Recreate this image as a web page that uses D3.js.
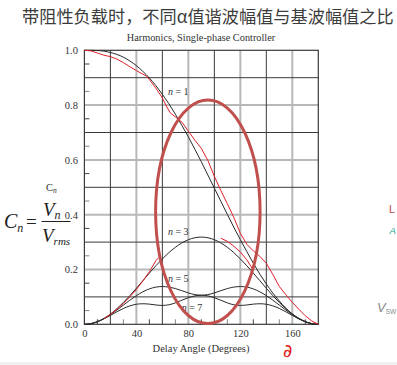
<!DOCTYPE html>
<html><head><meta charset="utf-8">
<script src="https://cdn.jsdelivr.net/npm/d3@7"></script>
<style>
html,body{margin:0;padding:0;background:#fff;}
svg{display:block;}
</style></head><body>
<svg id="c" width="397" height="365"></svg>
<script>
// ---- data ----
const angles = [0,5,10,15,20,25,30,35,40,45,50,55,60,65,70,75,80,85,90,95,100,105,110,115,120,125,130,135,140,145,150,155,160,165,170,175,180];
const c1 = [1.000,1.000,0.999,0.997,0.992,0.985,0.975,0.961,0.944,0.923,0.899,0.871,0.839,0.805,0.767,0.726,0.684,0.639,0.593,0.545,0.497,0.449,0.401,0.354,0.309,0.265,0.223,0.183,0.147,0.114,0.085,0.059,0.038,0.022,0.010,0.002,0.000];
const c3 = [0,0.0024,0.0096,0.0213,0.0372,0.0569,0.0796,0.1047,0.1315,0.1592,0.1868,0.2136,0.2387,0.2615,0.2811,0.2970,0.3087,0.3159,0.3183,0.3159,0.3087,0.2970,0.2811,0.2615,0.2387,0.2136,0.1868,0.1592,0.1315,0.1047,0.0796,0.0569,0.0372,0.0213,0.0096,0.0024,0];
const c5 = [0,0.0024,0.0095,0.0207,0.0352,0.0521,0.0702,0.0881,0.1046,0.1186,0.1292,0.1357,0.1378,0.1358,0.1304,0.1227,0.1146,0.1084,0.1061,0.1084,0.1146,0.1227,0.1304,0.1358,0.1378,0.1357,0.1292,0.1186,0.1046,0.0881,0.0702,0.0521,0.0352,0.0207,0.0095,0.0024,0];
const c7 = [0,0.0024,0.0093,0.0197,0.0324,0.0457,0.0578,0.0673,0.0732,0.0750,0.0736,0.0706,0.0689,0.0712,0.0782,0.0878,0.0971,0.1037,0.1061,0.1037,0.0971,0.0878,0.0782,0.0712,0.0689,0.0706,0.0736,0.0750,0.0732,0.0673,0.0578,0.0457,0.0324,0.0197,0.0093,0.0024,0];
// measured (red) curves
const meas1Angles = [0,5,10,15,20,25,30,35,40,45,48,50,55,60,63,66,70,75,80,85,90,95,100,105,110,115,120,125,130,135,140,145,150,155,160,165,170,175,180];
const meas1 = [1.000,0.998,0.990,0.982,0.977,0.968,0.955,0.940,0.926,0.913,0.905,0.893,0.862,0.826,0.797,0.772,0.757,0.738,0.705,0.672,0.642,0.598,0.540,0.488,0.440,0.390,0.332,0.292,0.268,0.248,0.223,0.182,0.138,0.108,0.080,0.055,0.031,0.012,0.000];
const meas3aAngles = [15,20,25,30,35,40,45,50,55,57];
const meas3a = [0.020,0.036,0.055,0.076,0.100,0.127,0.158,0.192,0.232,0.243];
const meas3bAngles = [105,110,115,120,125,130];
const meas3b = [0.314,0.303,0.285,0.264,0.235,0.198];
const harmonicNames = ["n = 1","n = 3","n = 5","n = 7"];
const xTicks = [0,40,80,120,160];
const xDarkGrid = [20,60,100,140];
const xGrayGrid = [40,80,120,160];
const xMinor = [10,30,50,70,90,110,130,150,170];
const yTicks = [0,0.2,0.4,0.6,0.8,1.0];
const yDarkGrid = [0.1,0.3,0.5,0.7,0.9];
const yGrayGrid = [0.2,0.4,0.6,0.8];
const yMinor = [0.05,0.15,0.25,0.35,0.45,0.55,0.65,0.75,0.85,0.95];

// ---- drawing ----
const svg = d3.select("#c");
const serif = "'Liberation Serif','Times New Roman',serif";
const x = d3.scaleLinear().domain([0,180]).range([84.4,318.3]);
const y = d3.scaleLinear().domain([0,1]).range([324.3,50.3]);

// bottom light strip
svg.append("rect").attr("x",0).attr("y",362).attr("width",397).attr("height",3).attr("fill","#f0f0f0");

// Chinese heading
svg.append("text").attr("x",22).attr("y",23)
  .attr("font-family","'Noto Sans CJK SC',sans-serif").attr("font-size",17.2).attr("fill","#3c3c3c")
  .text("带阻性负载时，不同α值谐波幅值与基波幅值之比");

// chart title
svg.append("text").attr("x",201).attr("y",40.5).attr("text-anchor","middle")
  .attr("font-family",serif).attr("font-size",10.3).attr("fill","#333")
  .text("Harmonics, Single-phase Controller");

const g = svg.append("g");
// grid
g.selectAll(".vg").data(xGrayGrid).join("line")
  .attr("x1",d=>x(d)).attr("x2",d=>x(d)).attr("y1",y(0)).attr("y2",y(1))
  .attr("stroke","#b8b8b8").attr("stroke-width",2);
g.selectAll(".hg").data(yGrayGrid).join("line")
  .attr("x1",x(0)).attr("x2",x(180)).attr("y1",d=>y(d)).attr("y2",d=>y(d))
  .attr("stroke","#b8b8b8").attr("stroke-width",2);
g.selectAll(".vd").data(xDarkGrid).join("line")
  .attr("x1",d=>x(d)).attr("x2",d=>x(d)).attr("y1",y(0)).attr("y2",y(1))
  .attr("stroke","#3a3a3a").attr("stroke-width",1);
g.selectAll(".hd").data(yDarkGrid).join("line")
  .attr("x1",x(0)).attr("x2",x(180)).attr("y1",d=>y(d)).attr("y2",d=>y(d))
  .attr("stroke","#3a3a3a").attr("stroke-width",1);
// minor ticks
g.selectAll(".ym").data(yMinor).join("line")
  .attr("x1",x(0)).attr("x2",x(0)+5).attr("y1",d=>y(d)).attr("y2",d=>y(d))
  .attr("stroke",(d,i)=>i%2? "#444":"#888").attr("stroke-width",1);
g.selectAll(".xm").data(xMinor).join("line")
  .attr("x1",d=>x(d)).attr("x2",d=>x(d)).attr("y1",y(0)).attr("y2",y(0)-5)
  .attr("stroke",(d,i)=>i%2? "#888":"#444").attr("stroke-width",1);
// frame
g.append("rect").attr("x",x(0)).attr("y",y(1)).attr("width",x(180)-x(0)).attr("height",y(0)-y(1))
  .attr("fill","none").attr("stroke","#3a3a3a").attr("stroke-width",1.2);

// axes labels
const ya = svg.append("g").attr("transform",`translate(${x(0)},0)`)
  .call(d3.axisLeft(y).tickValues(yTicks).tickFormat(d3.format(".1f")).tickSize(0).tickPadding(6.5));
ya.select(".domain").remove();
ya.selectAll("text").attr("font-family",serif).attr("font-size",10.5).attr("fill","#333");
const xa = svg.append("g").attr("transform",`translate(0,${y(0)})`)
  .call(d3.axisBottom(x).tickValues(xTicks).tickFormat(d3.format("d")).tickSize(0).tickPadding(5.5));
xa.select(".domain").remove();
xa.selectAll("text").attr("font-family",serif).attr("font-size",10.5).attr("fill","#333");

svg.append("text").attr("x",201).attr("y",352).attr("text-anchor","middle")
  .attr("font-family",serif).attr("font-size",10.5).attr("fill","#333")
  .text("Delay Angle (Degrees)");

// small Cn axis label
const cl = svg.append("text").attr("x",46).attr("y",190.5).attr("font-family",serif).attr("font-size",10.5).attr("fill","#333");
cl.append("tspan").text("C");
cl.append("tspan").attr("font-size",7.5).attr("font-style","italic").attr("dy",2.5).text("n");

// curves
const line = d3.line().x(d=>x(d[0])).y(d=>y(d[1])).curve(d3.curveCatmullRom.alpha(0.5));
const theory = [c1,c3,c5,c7];
theory.forEach(s=>{
  svg.append("path").datum(angles.map((a,i)=>[a,s[i]])).attr("d",line)
    .attr("fill","none").attr("stroke","#2a2a2a").attr("stroke-width",1);
});
const redLine = d3.line().x(d=>x(d[0])).y(d=>y(d[1])).curve(d3.curveLinear);
[[meas1Angles,meas1],[meas3aAngles,meas3a],[meas3bAngles,meas3b]].forEach(([a,v])=>{
  svg.append("path").datum(a.map((t,i)=>[t,v[i]])).attr("d",redLine)
    .attr("fill","none").attr("stroke","#e0202a").attr("stroke-width",1);
});

// curve labels
const labelAnchors = [[64.3,0.838],[64.3,0.327],[64.3,0.153],[74.9,0.047]];
harmonicNames.forEach((nm,i)=>{
  const t = svg.append("text").attr("x",x(labelAnchors[i][0])).attr("y",y(labelAnchors[i][1]))
    .attr("font-family",serif).attr("font-size",10).attr("fill","#333");
  t.append("tspan").attr("font-style","italic").text(nm.slice(0,1));
  t.append("tspan").text(nm.slice(1));
});

// formula Cn = Vn / Vrms
const f = svg.append("g").attr("font-family",serif).attr("fill","#222");
const fc = f.append("text").attr("x",4).attr("y",227.5).attr("font-size",20).attr("font-style","italic");
fc.append("tspan").text("C");
fc.append("tspan").attr("font-size",12).attr("dy",4).text("n");
f.append("text").attr("x",26).attr("y",227.5).attr("font-size",19).text("=");
const fn = f.append("text").attr("x",43).attr("y",215.5).attr("font-size",19).attr("font-style","italic");
fn.append("tspan").text("V");
fn.append("tspan").attr("font-size",12).attr("dy",3.5).text("n");
f.append("line").attr("x1",41.5).attr("x2",70.5).attr("y1",221.5).attr("y2",221.5).attr("stroke","#222").attr("stroke-width",1);
const fd = f.append("text").attr("x",42).attr("y",241.5).attr("font-size",19).attr("font-style","italic");
fd.append("tspan").text("V");
fd.append("tspan").attr("font-size",11).attr("dy",3.5).text("rms");

// red ellipse annotation
svg.append("ellipse").attr("cx",x(95)).attr("cy",y(0.4106))
  .attr("rx",x(40.2)-x(0)).attr("ry",y(0)-y(0.408))
  .attr("fill","none").attr("stroke","#c0504d").attr("stroke-width",3);

// handwritten alpha mark
svg.append("text").attr("x",283).attr("y",357).attr("font-family","'DejaVu Sans',sans-serif")
  .attr("font-size",18).attr("fill","#e02020").text("∂");

// fragments of neighbouring slide at the right edge
svg.append("text").attr("x",389).attr("y",213).attr("font-family","'Liberation Sans',sans-serif")
  .attr("font-size",11).attr("fill","#c0504d").text("L");
svg.append("text").attr("x",389.5).attr("y",234).attr("font-family","'Liberation Sans',sans-serif")
  .attr("font-size",9.5).attr("font-style","italic").attr("fill","#1aa58c").text("A");
const vs = svg.append("text").attr("x",377).attr("y",312).attr("font-family","'Liberation Sans',sans-serif")
  .attr("font-size",13).attr("font-style","italic").attr("fill","#8a8a8a");
vs.append("tspan").text("V");
vs.append("tspan").attr("font-size",6.5).attr("font-style","normal").attr("dy",2).text("SW");
</script>
</body></html>
